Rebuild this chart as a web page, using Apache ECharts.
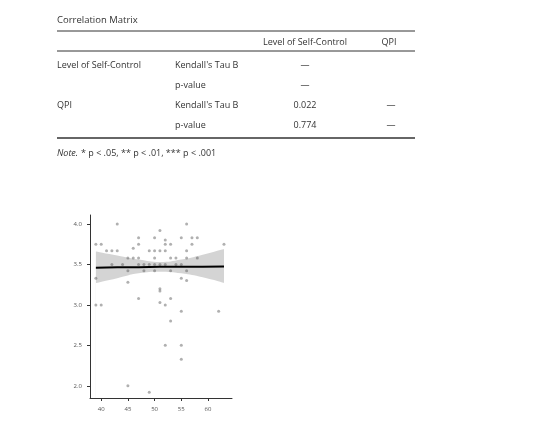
<!DOCTYPE html><html><head><meta charset="utf-8"><script src="https://cdn.jsdelivr.net/npm/echarts@6/dist/echarts.min.js"></script>
<style>html,body{margin:0;background:#fff}#c{width:534px;height:448px}</style></head><body><div id="c"></div><script>
const points=[[39,3.75],[40,3.75],[41,3.67],[42,3.67],[43,3.67],[43,4.0],[39,3.33],[42,3.5],[44,3.5],[45,3.58],[46,3.58],[45,3.42],[45,3.28],[46,3.7],[47,3.83],[47,3.75],[47,3.58],[47,3.5],[48,3.5],[48,3.42],[49,3.67],[49,3.5],[50,3.83],[50,3.67],[50,3.58],[50,3.5],[50,3.42],[51,3.92],[51,3.67],[51,3.5],[51,3.2],[52,3.8],[52,3.75],[52,3.67],[52,3.5],[53,3.75],[53,3.58],[53,3.42],[54,3.58],[54,3.5],[55,3.83],[55,3.5],[55,3.33],[56,4.0],[56,3.67],[56,3.58],[56,3.42],[56,3.3],[57,3.83],[57,3.75],[58,3.83],[58,3.58],[63,3.75],[39,3.0],[40,3.0],[47,3.08],[51,3.17],[51,3.03],[52,3.0],[53,3.08],[55,2.92],[53,2.8],[62,2.92],[52,2.5],[55,2.5],[55,2.33],[45,2.0],[49,1.92]];
const bandX=[39,43,47,51,55,59,63];
const bandLow=[3.27,3.33,3.39,3.41,3.39,3.34,3.27];
const bandHigh=[3.66,3.61,3.56,3.53,3.56,3.62,3.69];
const fitY=[3.46,3.465,3.465,3.47,3.47,3.47,3.475];
const xTicks=[40,45,50,55,60];
const yTicks=[2.0,2.5,3.0,3.5,4.0];
const tbl=[["Level of Self-Control","Kendall's Tau B","—"],["","p-value","—"],["QPI","Kendall's Tau B","0.022","—"],["","p-value","0.774","—"]];
const F="'Segoe UI','Open Sans',sans-serif", C='#333';
const g=[];
const t=(x,y,s,align,fs,extra)=>g.push({type:'text',x,y,style:Object.assign({text:s,fill:C,font:(fs||9)+'px '+F,textAlign:align||'left',textVerticalAlign:'middle'},extra||{})});
const ln=(y,w)=>g.push({type:'line',shape:{x1:57,y1:y,x2:415,y2:y},style:{stroke:'#333',lineWidth:w||1}});
t(57,20,'Correlation Matrix','left',9.5);
ln(31);t(305,42,'Level of Self-Control','center');t(389,42,'QPI','center');ln(51);
const ys=[65,85,105,125];
tbl.forEach((r,i)=>{t(57,ys[i],r[0]);t(175,ys[i],r[1]);t(305,ys[i],r[2],'center');if(r[3])t(391,ys[i],r[3],'center');});
ln(138,1.5);
t(57,153,'Note.','left',9,{font:'italic 9px '+F});
t(81,153,'* p < .05, ** p < .01, *** p < .001','left',9);
const ax={axisLine:{lineStyle:{color:'#333'}},axisTick:{length:3,lineStyle:{color:'#333'}},splitLine:{show:false},axisLabel:{fontSize:6,color:'#555',fontFamily:F}};
const ch=echarts.init(document.getElementById('c'));
ch.setOption({animation:false,graphic:g,
grid:{left:90,top:215,width:142,height:183},
xAxis:Object.assign({type:'value',min:37.9,max:64.5},ax,{axisTick:Object.assign({},ax.axisTick,{customValues:xTicks}),axisLabel:Object.assign({},ax.axisLabel,{customValues:xTicks})}),
yAxis:Object.assign({type:'value',min:1.85,max:4.11},ax,{axisTick:Object.assign({},ax.axisTick,{customValues:yTicks}),axisLabel:Object.assign({},ax.axisLabel,{customValues:yTicks,formatter:v=>v.toFixed(1)})}),
series:[
{type:'line',data:bandX.map((x,i)=>[x,bandHigh[i]]),smooth:true,symbol:'none',lineStyle:{width:0},areaStyle:{color:'#d4d4d4',opacity:1,origin:'start'},z:1},
{type:'line',data:bandX.map((x,i)=>[x,bandLow[i]]),smooth:true,symbol:'none',lineStyle:{width:0},areaStyle:{color:'#fff',opacity:1,origin:'start'},z:2},
{type:'scatter',data:points,symbolSize:3,itemStyle:{color:'rgba(90,90,90,0.6)'},z:3},
{type:'line',data:bandX.map((x,i)=>[x,fitY[i]]),symbol:'none',lineStyle:{color:'#000',width:2},z:4}
]});
</script></body></html>
